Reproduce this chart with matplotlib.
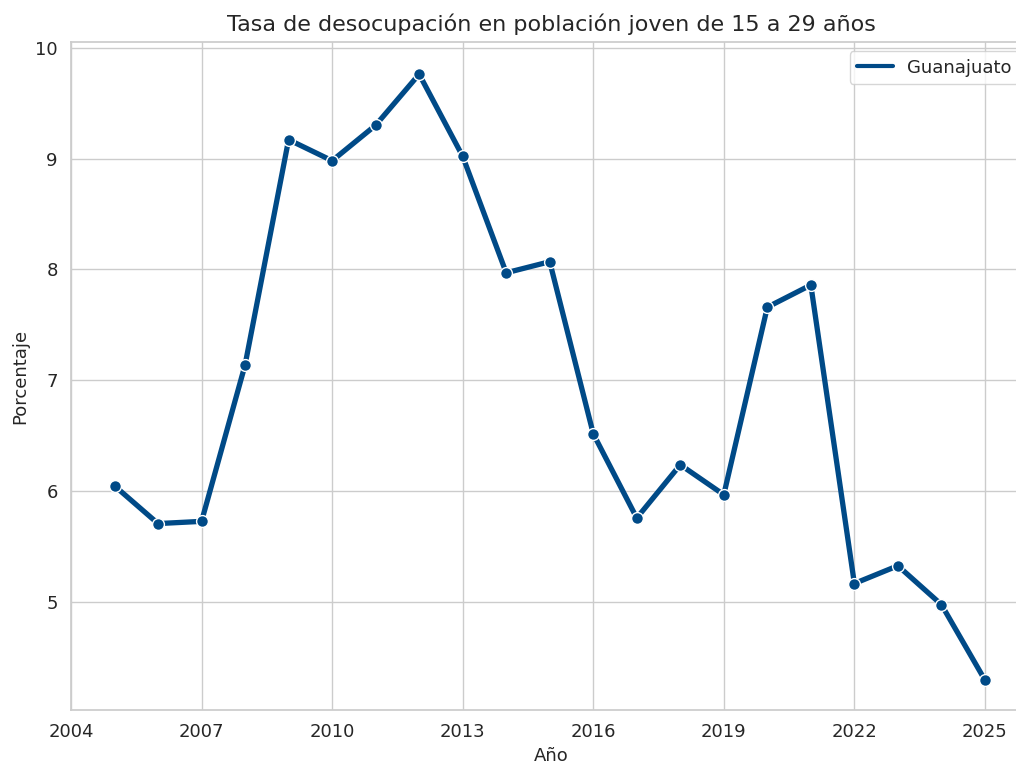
import matplotlib
matplotlib.use("Agg")
import matplotlib.pyplot as plt
import seaborn as sns
from matplotlib.lines import Line2D

years = [2005, 2006, 2007, 2008, 2009, 2010, 2011, 2012, 2013, 2014, 2015,
         2016, 2017, 2018, 2019, 2020, 2021, 2022, 2023, 2024, 2025]
values = [6.05, 5.71, 5.73, 7.14, 9.17, 8.98, 9.30, 9.76, 9.02, 7.97, 8.07,
          6.52, 5.76, 6.24, 5.97, 7.66, 7.86, 5.17, 5.33, 4.98, 4.30]
xticks = [2004, 2007, 2010, 2013, 2016, 2019, 2022, 2025]
yticks = [5, 6, 7, 8, 9, 10]

sns.set_theme(style="whitegrid")
plt.rcParams['font.family'] = ['DejaVu Sans']

color = "#004a87"
fig = plt.figure(figsize=(10.16, 7.64), dpi=100)
ax = fig.add_axes([71/1016, 1 - 710/764, 960/1016, (710 - 42)/764])
ax.plot(years, values, color=color, linewidth=3.8, marker="o",
        markersize=8.5, markeredgecolor="white", markeredgewidth=1,
        label="Guanajuato")
ax.set_xlim(2004, 2004 + 960/43.52)
ax.set_ylim(4.03, 10.05)
ax.set_xticks(xticks)
ax.set_yticks(yticks)
ax.tick_params(labelsize=13, colors="#262626")
ax.set_title("Tasa de desocupación en población joven de 15 a 29 años",
             fontsize=16, color="#262626", pad=8)
ax.set_xlabel("Año", fontsize=13, color="#262626")
ax.set_ylabel("Porcentaje", fontsize=13, color="#262626")
handle = Line2D([], [], color=color, linewidth=3)
ax.legend([handle], ["Guanajuato"], loc="upper right", fontsize=13,
          bbox_to_anchor=(0.997, 0.9995))
ax.spines["right"].set_visible(False)
fig.savefig("out.png", dpi=100)
